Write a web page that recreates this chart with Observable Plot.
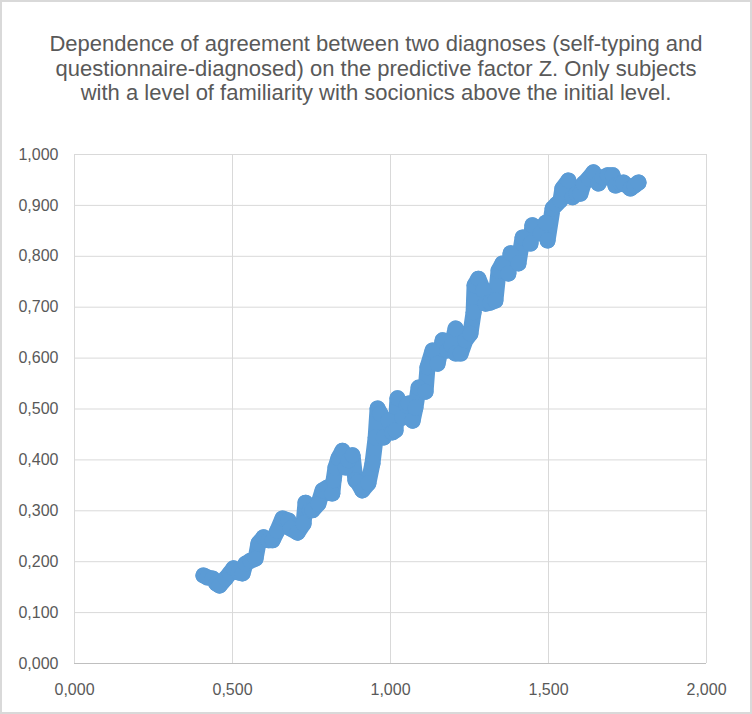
<!DOCTYPE html>
<html>
<head>
<meta charset="utf-8">
<script src="https://cdn.jsdelivr.net/npm/d3@7"></script>
<script src="https://cdn.jsdelivr.net/npm/@observablehq/plot@0.6"></script>
<style>
  html, body { margin: 0; padding: 0; background: #ffffff; }
  #frame { position: relative; width: 752px; height: 714px; overflow: hidden; background: #fff; }
  #border { position: absolute; left: 0; top: 0; width: 752px; height: 714px; box-sizing: border-box; border: 2px solid #d9d9d9; pointer-events: none; }
  #title { height: 130px; box-sizing: border-box; padding-top: 32px; text-align: center; font-family: "Liberation Sans", Arial, sans-serif; font-size: 22px; line-height: 24.5px; color: #595959; white-space: nowrap; }
  svg { display: block; }
</style>
</head>
<body>
<div id="frame">
  <div id="title">Dependence of agreement between two diagnoses (self-typing and<br>questionnaire-diagnosed) on the predictive factor Z. Only subjects<br>with a level of familiarity with socionics above the initial level.</div>
  <div id="chart"></div>
  <div id="border"></div>
</div>
<script>
const zValues = [0.408,0.421,0.437,0.449,0.459,0.478,0.491,0.503,0.519,0.532,0.541,0.557,0.573,0.582,0.598,0.614,0.627,0.642,0.658,0.677,0.684,0.706,0.725,0.731,0.744,0.753,0.772,0.785,0.801,0.816,0.820,0.826,0.835,0.848,0.858,0.867,0.880,0.889,0.896,0.911,0.930,0.943,0.953,0.959,0.968,0.978,0.994,1.006,1.016,1.022,1.038,1.051,1.057,1.070,1.079,1.089,1.111,1.117,1.133,1.149,1.165,1.180,1.193,1.206,1.206,1.222,1.237,1.253,1.263,1.266,1.278,1.294,1.301,1.316,1.332,1.342,1.354,1.373,1.380,1.405,1.418,1.443,1.449,1.475,1.491,1.497,1.513,1.525,1.538,1.544,1.563,1.576,1.589,1.601,1.611,1.627,1.642,1.658,1.671,1.687,1.703,1.712,1.728,1.737,1.759,1.772,1.785];
const agreementValues = [0.173,0.169,0.167,0.157,0.153,0.167,0.177,0.187,0.179,0.177,0.196,0.202,0.206,0.236,0.248,0.242,0.242,0.261,0.285,0.281,0.265,0.257,0.275,0.316,0.301,0.301,0.314,0.340,0.346,0.334,0.360,0.385,0.403,0.418,0.385,0.399,0.409,0.360,0.356,0.340,0.354,0.393,0.444,0.501,0.491,0.444,0.477,0.454,0.458,0.521,0.483,0.507,0.511,0.477,0.503,0.542,0.534,0.582,0.615,0.589,0.635,0.615,0.625,0.658,0.609,0.609,0.635,0.648,0.690,0.743,0.756,0.733,0.707,0.709,0.713,0.772,0.786,0.766,0.806,0.786,0.837,0.825,0.861,0.845,0.866,0.831,0.894,0.902,0.910,0.933,0.949,0.916,0.923,0.923,0.943,0.953,0.965,0.943,0.955,0.959,0.959,0.939,0.943,0.945,0.933,0.939,0.945];
const xTicks = [0, 0.5, 1, 1.5, 2];
const yTicks = [0, 0.1, 0.2, 0.3, 0.4, 0.5, 0.6, 0.7, 0.8, 0.9, 1.0];

const data = zValues.map((z, i) => ({ z, a: agreementValues[i] }));
const fmt = v => d3.format(".3f")(v).replace(".", ",");

const chart = Plot.plot({
  width: 752,
  height: 584,
  marginTop: 24,
  marginBottom: 51,
  marginLeft: 74,
  marginRight: 46,
  x: { domain: [0, 2] },
  y: { domain: [0, 1] },
  style: { fontFamily: "'Liberation Sans', Arial, sans-serif", fontSize: "16px", color: "#595959", background: "transparent" },
  marks: [
    Plot.gridX(xTicks, { stroke: "#d9d9d9", strokeOpacity: 1, strokeWidth: 1 }),
    Plot.gridY(yTicks.slice(1), { stroke: "#d9d9d9", strokeOpacity: 1, strokeWidth: 1 }),
    Plot.ruleY([0], { stroke: "#bfbfbf", strokeWidth: 1 }),
    Plot.axisX(xTicks, { tickFormat: fmt, tickSize: 0, tickPadding: 20, label: null, fill: "#595959" }),
    Plot.axisY(yTicks, { tickFormat: fmt, tickSize: 0, tickPadding: 16, label: null, fill: "#595959" }),
    Plot.line(data, { x: "z", y: "a", stroke: "#5b9bd5", strokeWidth: 16, strokeLinejoin: "round", strokeLinecap: "round" }),
    Plot.dot(data, { x: "z", y: "a", r: 8, fill: "#5b9bd5" })
  ]
});
document.getElementById("chart").appendChild(chart);
</script>
</body>
</html>
